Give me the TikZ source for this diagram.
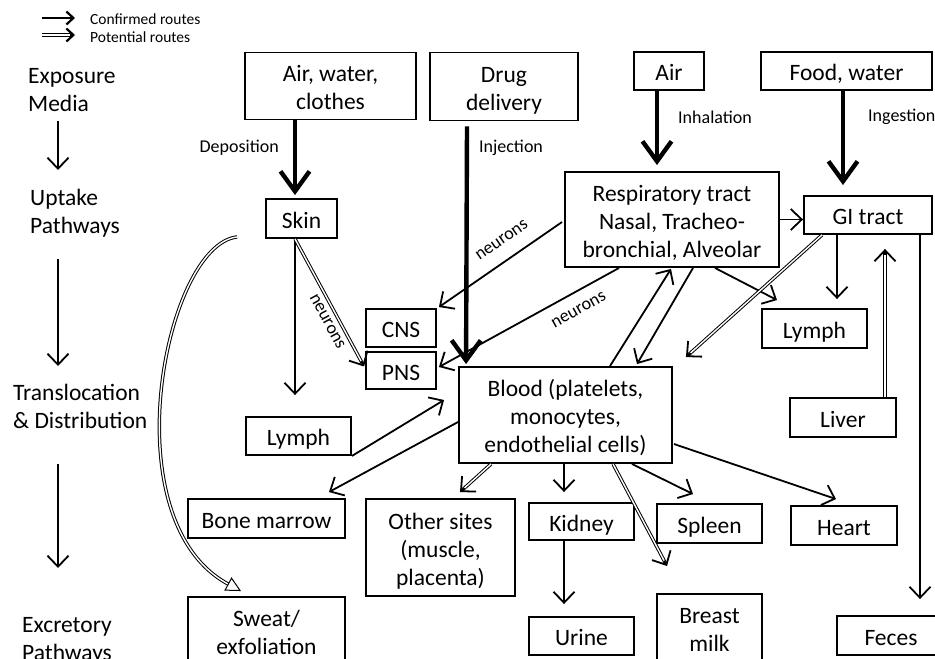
\documentclass[tikz,border=0pt]{standalone}
\usepackage{fontspec}
\setmainfont{Carlito}
\usetikzlibrary{arrows.meta,calc}
\newcommand\bxf{\fontsize{23.5}{28}\selectfont}
\newcommand\lbf{\fontsize{18}{20}\selectfont}
\newcommand\lgf{\fontsize{15.5}{17}\selectfont}
\newcommand\ftop{\rule{0pt}{25.5pt}}
\newcommand\fbot{\rule[-6.5pt]{0pt}{6.5pt}}
\begin{document}
\begin{tikzpicture}[x=1pt,y=-1pt,
 box/.style={draw,line width=1.9pt,align=center,inner sep=0pt,font=\bxf},
 one/.style={text height=20pt,text depth=1pt},
 conf/.style={line width=1.8pt,-{Straight Barb[length=11pt,width=21pt]}},
 heavy/.style={line width=4.4pt,-{Straight Barb[length=20pt,width=29pt]}},
 pot/.style={draw,line width=1pt,double=white,double distance=1.4pt},
 lab/.style={font=\lbf,inner sep=1pt},
 side/.style={font=\bxf,align=left,anchor=west,inner sep=0pt}]
\clip (0,0) rectangle (935,659);

% legend
\node[font=\lgf,anchor=west,inner sep=0pt] (leg1) at (90,19) {Confirmed routes};
\node[font=\lgf,anchor=west,inner sep=0pt] (leg2) at (90,37) {Potential routes};
\draw[line width=2.2pt,-{Straight Barb[length=7pt,width=13pt]}] ($(leg1.west)+(-48,-1)$) -- ($(leg1.west)+(-15,-1)$);
\coordinate (lp1) at ($(leg2.west)+(-48,-2)$);
\coordinate (lp2) at ($(leg2.west)+(-15,-2)$);
\draw[pot,line width=1.3pt] (lp1) -- ($(lp2)!3pt!(lp1)$);
\draw[line width=2.2pt,-{Straight Barb[length=7pt,width=13pt]}] ($(lp2)!5pt!(lp1)$) -- (lp2);

% side labels
\node[side] (expo) at (28,88) {\ftop Exposure\\Media\fbot};
\node[side] (upt) at (30,210) {\ftop Uptake\\Pathways\fbot};
\node[side] (trans) at (13,404.5) {\ftop Translocation\\\& Distribution\fbot};
\node[side] (excr) at (22,637) {\ftop Excretory\\Pathways\fbot};
\draw[conf] ($(expo.west)+(30,33)$) -- ($(upt.west)+(28,-40)$);
\draw[conf] ($(upt.west)+(28,49)$) -- ($(trans.west)+(45,-38.5)$);
\draw[conf] ($(trans.west)+(45,59.5)$) -- ($(excr.west)+(36,-69)$);

% boxes
\node[box,minimum width=171pt,minimum height=67pt] (airw) at (330.5,86) {\ftop Air, water,\\clothes\fbot};
\node[box,minimum width=148pt,minimum height=68pt] (drug) at (504,86.5) {\ftop Drug\\delivery\fbot};
\node[box,one,minimum width=70pt,minimum height=38pt] (air) at (669,71) {Air};
\node[box,one,minimum width=171pt,minimum height=38pt] (food) at (846.5,71) {Food, water};
\node[box,one,minimum width=71pt,minimum height=39pt] (skin) at (301.5,218.5) {Skin};
\node[box,minimum width=214pt,minimum height=95pt] (resp) at (672,219.5) {\ftop Respiratory tract\\Nasal, Tracheo-\\bronchial, Alveolar\fbot};
\node[box,one,minimum width=128pt,minimum height=38pt] (gi) at (868,215) {GI tract};
\node[box,one,minimum width=70pt,minimum height=38pt] (cns) at (401,328) {CNS};
\node[box,one,minimum width=70pt,minimum height=37pt] (pns) at (401,370.5) {PNS};
\node[box,one,minimum width=105pt,minimum height=39pt] (lymphR) at (814.5,328.5) {Lymph};
\node[box,minimum width=213pt,minimum height=96pt] (blood) at (565.5,415) {\ftop Blood (platelets,\\monocytes,\\endothelial cells)\fbot};
\node[box,one,minimum width=106pt,minimum height=39pt] (liver) at (843,417.5) {Liver};
\node[box,one,minimum width=105pt,minimum height=38pt] (lymphL) at (298.5,436) {Lymph};
\node[box,one,minimum width=157pt,minimum height=39pt] (bone) at (266.5,518.5) {Bone marrow};
\node[box,minimum width=149pt,minimum height=97pt] (other) at (440.5,547.5) {\ftop Other sites\\(muscle,\\placenta)\fbot};
\node[box,one,minimum width=105pt,minimum height=37pt] (kidney) at (581.5,521.5) {Kidney};
\node[box,one,minimum width=105pt,minimum height=39pt] (spleen) at (709.5,523.5) {Spleen};
\node[box,one,minimum width=106pt,minimum height=39pt] (heart) at (844,525.5) {Heart};
\node[box,minimum width=157pt,minimum height=68pt] (sweat) at (266.5,631) {\ftop Sweat/\\exfoliation\fbot};
\node[box,one,minimum width=105pt,minimum height=38pt] (urine) at (581.5,636) {Urine};
\node[box,minimum width=105pt,minimum height=68pt] (breast) at (709.5,628) {\ftop Breast\\milk\fbot};
\node[box,one,minimum width=108pt,minimum height=39pt] (feces) at (891,635.5) {Feces};

% uptake (heavy)
\draw[heavy] ($(airw.south)+(-35.5,0)$) -- node[lab,pos=0.36,left=13pt]{Deposition} ($(skin.north)+(-6.5,-3)$);
\draw[heavy] ($(drug.south)+(-37,5)$) -- node[lab,pos=0.09,right=9pt]{Injection} ($(blood.north west)+(8,-2)$);
\draw[heavy] ($(air.south)+(-12,0)$) -- node[lab,pos=0.36,right=18pt]{Inhalation} ($(resp.north)+(-15,-6)$);
\draw[heavy] ($(food.south)+(-3.5,0)$) -- node[lab,pos=0.28,right=22pt]{Ingestion} ($(gi.north)+(-25,-10)$);

% confirmed routes
\draw[conf] (resp.east) -- (resp.east -| gi.west);
\draw[conf] ($(skin.south)+(-6.5,0)$) -- ($(lymphL.north)+(-3.5,-21)$);
\draw[conf] ($(resp.west)+(-2,2.5)$) -- node[lab,pos=0.4,sloped,above=13pt]{neurons} ($(cns.north east)+(2,-1)$);
\draw[conf] ($(resp.south west)+(55,0)$) -- node[lab,pos=0.27,sloped,below=11pt]{neurons} ($(pns.east)+(2,-3.5)$);
\draw[conf] ($(blood.north)+(44.5,0)$) -- ($(resp.south)+(-1,1)$);
\draw[conf] ($(resp.south)+(21,0)$) -- ($(blood.north)+(71.5,-2)$);
\draw[conf] ($(resp.south)+(43,0)$) -- ($(lymphR.north)+(-37.5,-8)$);
\draw[conf] ($(gi.south)+(-31,0)$) -- ($(lymphR.north)+(22.5,-9)$);
\draw[conf] ($(gi.south)+(52,0)$) -- ($(feces.north)+(29,-16)$);
\draw[conf] (lymphL.south east) -- ($(blood.west)+(-14,-15)$);
\draw[conf] ($(blood.west)+(0,7)$) -- ($(bone.north east)+(-17,-6)$);
\draw[conf] ($(blood.south)+(-1.5,0)$) -- ($(kidney.north)+(-17.5,-10)$);
\draw[conf] ($(kidney.south)+(-17.5,0)$) -- ($(urine.north)+(-17.5,-12)$);
\draw[conf] ($(blood.south)+(66.5,0)$) -- ($(spleen.north)+(-16.5,-9)$);
\draw[conf] ($(blood.east)+(1,29)$) -- ($(heart.north)+(-8,-6)$);

% potential routes
\coordinate (s1) at ($(skin.south)+(-6.5,0)$);
\coordinate (s2) at ($(pns.west)+(-1,-4)$);
\draw[pot] (s1) -- node[lab,pos=0.62,sloped,below=5pt]{neurons} ($(s2)!3pt!(s1)$);
\draw[conf] ($(s2)!6pt!(s1)$) -- (s2);

\coordinate (g1) at ($(gi.south)+(-46,0)$);
\coordinate (g2) at ($(blood.north east)+(13,-9)$);
\draw[pot] (g1) -- ($(g2)!3pt!(g1)$);
\draw[conf] ($(g2)!6pt!(g1)$) -- (g2);

\coordinate (v1) at ($(liver.north)+(42,0)$);
\coordinate (v2) at ($(gi.south)+(17,14)$);
\draw[pot] (v1) -- ($(v2)!3pt!(v1)$);
\draw[conf] ($(v2)!6pt!(v1)$) -- (v2);

\coordinate (o1) at ($(blood.south west)+(33,0)$);
\coordinate (o2) at ($(other.north)+(19.5,-6)$);
\draw[pot] (o1) -- ($(o2)!3pt!(o1)$);
\draw[conf] ($(o2)!6pt!(o1)$) -- (o2);

\coordinate (b1) at ($(blood.south)+(47.5,0)$);
\coordinate (b2) at ($(breast.north)+(-42.5,-27)$);
\draw[pot] (b1) -- ($(b2)!3pt!(b1)$);
\draw[conf] ($(b2)!6pt!(b1)$) -- (b2);

\draw[pot,-{Triangle[open,length=15pt,width=15pt]}] ($(skin.south west)+(-28,-2)$) .. controls (165,245) and (110,520) .. ($(sweat.north west)+(54,-5)$);
\end{tikzpicture}
\end{document}
